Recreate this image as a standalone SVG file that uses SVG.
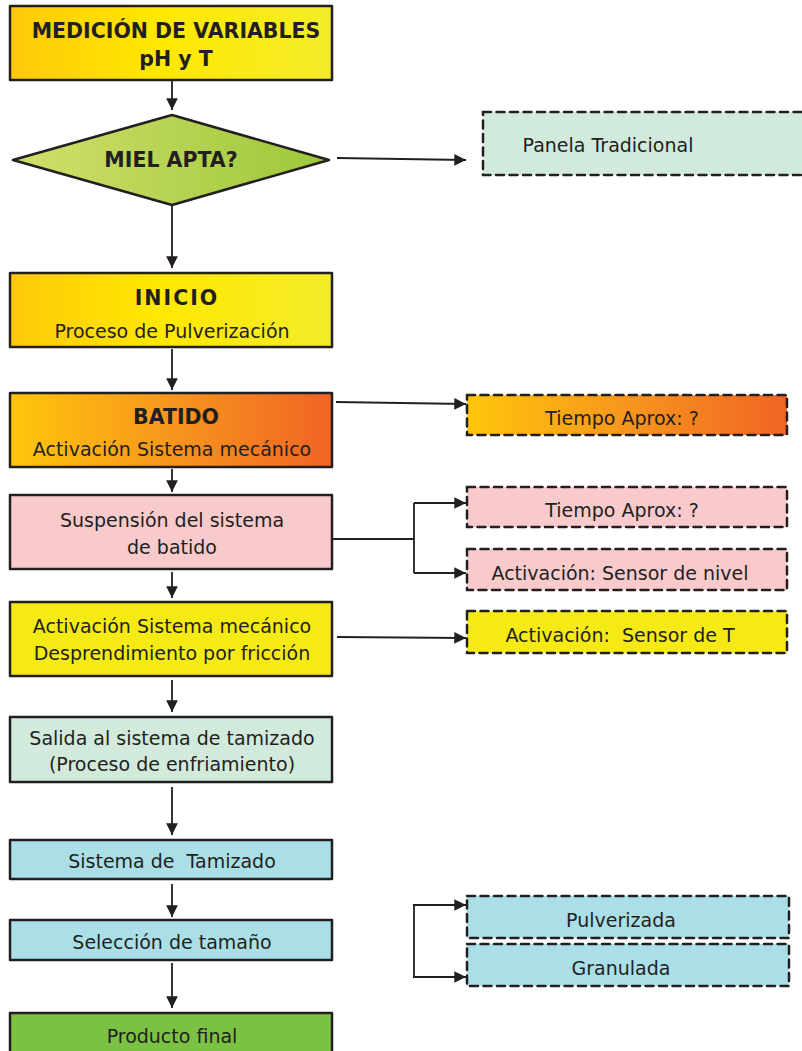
<svg xmlns="http://www.w3.org/2000/svg" width="802" height="1051" viewBox="0 0 802 1051">
<defs>
<linearGradient id="gY" x1="0" x2="1" y1="0" y2="0"><stop offset="0" stop-color="#FFC80A"/><stop offset="0.45" stop-color="#FFE800"/><stop offset="1" stop-color="#F4EC2A"/></linearGradient>
<linearGradient id="gO" x1="0" x2="1" y1="0" y2="0"><stop offset="0" stop-color="#FFC60B"/><stop offset="0.5" stop-color="#F7961E"/><stop offset="1" stop-color="#F06424"/></linearGradient>
<linearGradient id="gG" x1="0" x2="1" y1="0" y2="0"><stop offset="0" stop-color="#D2DF6B"/><stop offset="1" stop-color="#9CC83A"/></linearGradient>
<marker id="ah" viewBox="0 0 10 10" refX="10" refY="5" markerWidth="6.5" markerHeight="6.5" markerUnits="strokeWidth" orient="auto"><path d="M0,0 L10,5 L0,10 z" fill="#231F20"/></marker>
</defs>
<style>
.b{stroke:#231F20;stroke-width:2.5;stroke-linejoin:round}
.d{stroke:#231F20;stroke-width:2.5;stroke-dasharray:8 5.5;stroke-linecap:round}
.t{font-family:"DejaVu Sans",Verdana,sans-serif;font-size:19px;fill:#231F20;text-anchor:middle;white-space:pre}
.h{font-family:"DejaVu Sans",Verdana,sans-serif;font-size:20.5px;font-weight:bold;fill:#231F20;text-anchor:middle}
.c{fill:none;stroke:#231F20;stroke-width:1.8;marker-end:url(#ah)}
.l{fill:none;stroke:#231F20;stroke-width:1.8}
</style>
<rect width="802" height="1051" fill="#fff"/>
<g id="n1"><rect class="b" x="10" y="6" width="322" height="74" fill="url(#gY)"/><text class="h" x="176" y="38">MEDICIÓN DE VARIABLES</text><text class="h" x="176" y="66">pH y T</text></g>
<g id="n2"><polygon class="b" points="172,115 329,160 172,205 13,160" fill="url(#gG)"/><text class="h" x="171" y="167">MIEL APTA?</text></g>
<g id="n3"><rect class="d" x="483" y="112" width="330" height="63" fill="#D2EADC"/><text class="t" x="608" y="152">Panela Tradicional</text></g>
<g id="n4"><rect class="b" x="10" y="273" width="322" height="74" fill="url(#gY)"/><text class="h" x="177" y="305" letter-spacing="2">INICIO</text><text class="t" x="172" y="338">Proceso de Pulverización</text></g>
<g id="n5"><rect class="b" x="10" y="393" width="322" height="74" fill="url(#gO)"/><text class="h" x="176" y="424">BATIDO</text><text class="t" x="172" y="456">Activación Sistema mecánico</text></g>
<g id="n6"><rect class="d" x="467" y="395" width="320" height="40" fill="url(#gO)"/><text class="t" x="622" y="425">Tiempo Aprox: ?</text></g>
<g id="n7"><rect class="b" x="10" y="495" width="322" height="74" fill="#F8CACB"/><text class="t" x="172" y="527">Suspensión del sistema</text><text class="t" x="172" y="554">de batido</text></g>
<g id="n8"><rect class="d" x="467" y="487" width="320" height="40" fill="#F8CACB"/><text class="t" x="622" y="517">Tiempo Aprox: ?</text></g>
<g id="n9"><rect class="d" x="467" y="549" width="320" height="41" fill="#F8CACB"/><text class="t" x="620" y="580">Activación: Sensor de nivel</text></g>
<g id="n10"><rect class="b" x="10" y="602" width="322" height="74" fill="#F5EA14"/><text class="t" x="172" y="633">Activación Sistema mecánico</text><text class="t" x="172" y="660">Desprendimiento por fricción</text></g>
<g id="n11"><rect class="d" x="467" y="611" width="320" height="42" fill="#F5EA14"/><text class="t" x="620" y="642">Activación:  Sensor de T</text></g>
<g id="n12"><rect class="b" x="10" y="717" width="322" height="65" fill="#D2EADC"/><text class="t" x="172" y="745">Salida al sistema de tamizado</text><text class="t" x="172" y="771">(Proceso de enfriamiento)</text></g>
<g id="n13"><rect class="b" x="10" y="840" width="322" height="39" fill="#AADFE8"/><text class="t" x="172" y="868">Sistema de  Tamizado</text></g>
<g id="n14"><rect class="b" x="10" y="920" width="322" height="40" fill="#AADFE8"/><text class="t" x="172" y="949">Selección de tamaño</text></g>
<g id="n15"><rect class="d" x="467" y="896" width="322" height="42" fill="#AADFE8"/><text class="t" x="621" y="927">Pulverizada</text></g>
<g id="n16"><rect class="d" x="467" y="944" width="322" height="42" fill="#AADFE8"/><text class="t" x="621" y="975">Granulada</text></g>
<g id="n17"><rect class="b" x="10" y="1013" width="322" height="50" fill="#7BC143"/><text class="t" x="172" y="1043">Producto final</text></g>
<g id="connectors">
<path class="c" d="M172,81 V110"/>
<path class="c" d="M172,206 V268"/>
<path class="c" d="M337,158 L466,160"/>
<path class="c" d="M172,349 V390"/>
<path class="c" d="M336,402 L466,404"/>
<path class="c" d="M172,469 V492"/>
<path class="l" d="M332,539 H414 M414,503 V573"/>
<path class="c" d="M414,503 H466"/>
<path class="c" d="M414,573 H466"/>
<path class="c" d="M172,572 V598"/>
<path class="c" d="M337,637 L466,638"/>
<path class="c" d="M172,680 V712"/>
<path class="c" d="M172,787 V835"/>
<path class="c" d="M172,884 V917"/>
<path class="c" d="M172,963 V1008"/>
<path class="l" d="M414,905 V977"/>
<path class="c" d="M413,905 H466"/>
<path class="c" d="M413,977 H466"/>
</g>
</svg>
